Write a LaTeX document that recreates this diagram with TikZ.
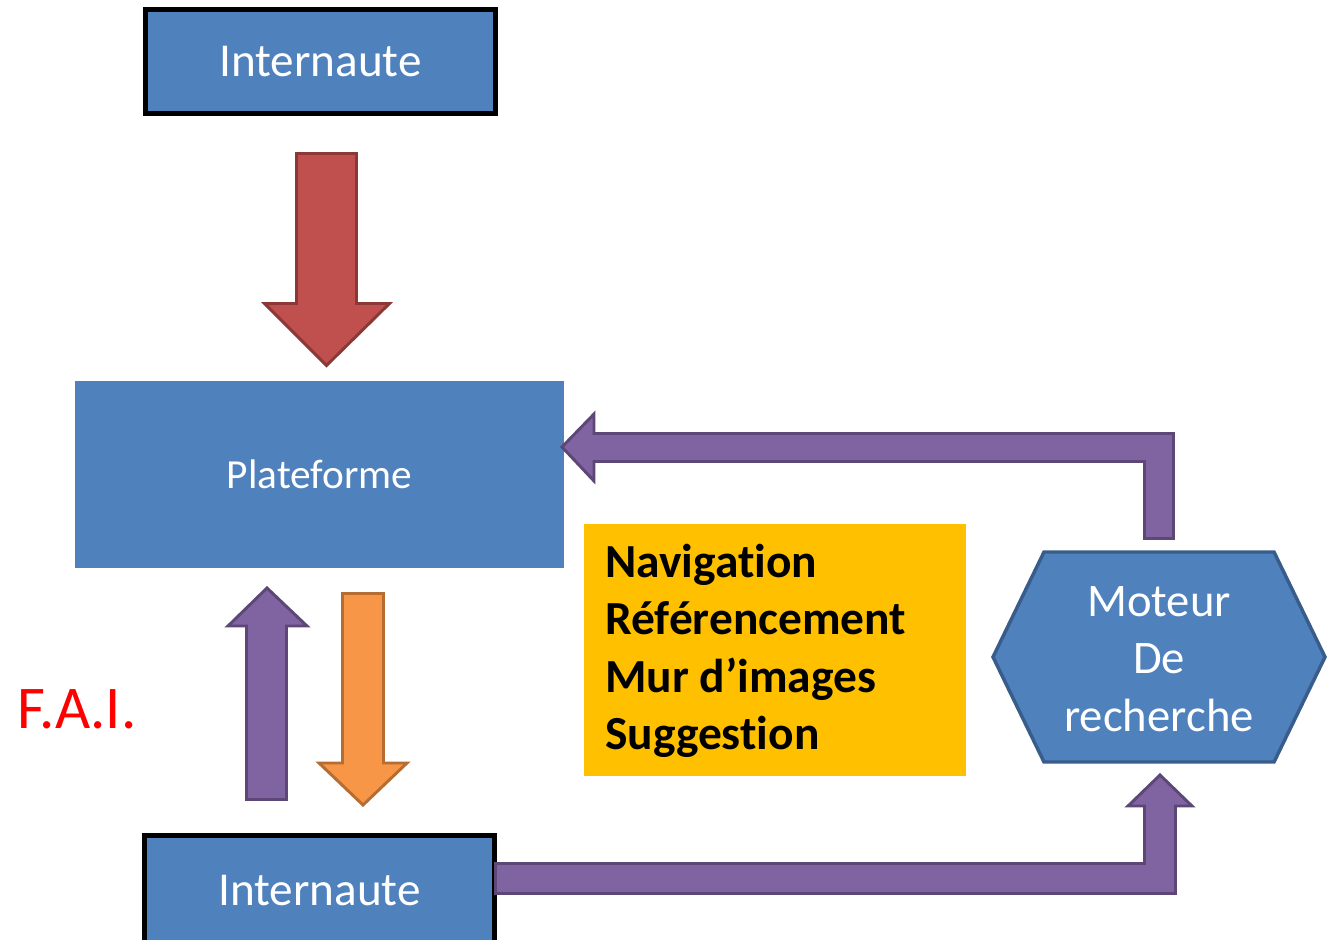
\documentclass[tikz,border=0pt]{standalone}
\usepackage{fontspec}
\setmainfont{Carlito}[Ligatures={NoCommon}, RawFeature={-liga;-clig;-dlig}]
\definecolor{boxblue}{HTML}{4F81BD}
\definecolor{hexborder}{HTML}{385D8A}
\definecolor{purplefill}{HTML}{8064A2}
\definecolor{purpleline}{HTML}{5C4776}
\definecolor{redfill}{HTML}{C0504D}
\definecolor{redline}{HTML}{8C3836}
\definecolor{orangefill}{HTML}{F79646}
\definecolor{orangeline}{HTML}{B66D31}
\definecolor{yellowfill}{HTML}{FFC000}
\tikzset{
  userbox/.style={draw=black, line width=3.75pt, fill=boxblue, text=white,
    minimum width=263pt, minimum height=78pt, inner sep=0pt,
    font=\fontsize{35.4}{42}\selectfont},
  blockred/.style={fill=redfill, draw=redline, line width=2.2pt, line join=miter},
  blockpurple/.style={fill=purplefill, draw=purpleline, line width=2.2pt, line join=miter},
  blockorange/.style={fill=orangefill, draw=orangeline, line width=2.2pt, line join=miter},
}
\begin{document}
\begin{tikzpicture}[x=0.75pt,y=-0.75pt]
\useasboundingbox (0,0) rectangle (1334,939);
% boxes
\node[userbox] (top) at (320.5,61.5) {Internaute};
\node[userbox, minimum height=90pt] (bottom) at (319.5,895) {\raisebox{6.5pt}{Internaute}};
\node[fill=boxblue, text=white, minimum width=366.75pt, minimum height=140.25pt,
  inner sep=0pt, font=\fontsize{31}{37}\selectfont] (plat) at (319.5,474.5) {Plateforme};
\node[fill=yellowfill, minimum width=286.5pt, minimum height=189pt, inner sep=0pt] (yellow) at (775,650) {};
\node[anchor=west, align=left, inner sep=0pt, font=\bfseries\fontsize{35.6}{43}\selectfont]
  (list) at (605,651) {Navigat\kern0pt ion\\Référencement\\Mur d’images\\Suggest\kern0pt ion};
% hexagon
\coordinate (hw) at (993,657);
\coordinate (hnw) at (1044,552);
\coordinate (hne) at (1274,552);
\coordinate (he) at (1325,657);
\coordinate (hse) at (1274,762);
\coordinate (hsw) at (1044,762);
\draw[fill=boxblue, draw=hexborder, line width=2.6pt, line join=miter]
  (hw) -- (hnw) -- (hne) -- (he) -- (hse) -- (hsw) -- cycle;
\node[text=white, align=center, inner sep=0pt, font=\fontsize{35}{43}\selectfont]
  (moteur) at (1159,659) {Moteur\\De\\recherche};
% F.A.I.
\node[text=red, anchor=base, inner sep=0pt, font=\fontsize{45.5}{54}\selectfont] (fai) at (77,728) {F.A.I.};
% red arrow down
\draw[blockred] (296.5,153.5) -- (356.5,153.5) -- (356.5,303.5) -- (389.5,303.5)
  -- (326.5,365.5) -- (264.5,303.5) -- (296.5,303.5) -- cycle;
% purple arrow up
\draw[blockpurple] (246.5,799.5) -- (286.5,799.5) -- (286.5,626) -- (307,626)
  -- (267,588) -- (228,626) -- (246.5,626) -- cycle;
% orange arrow down
\draw[blockorange] (342.5,593.5) -- (383.5,593.5) -- (383.5,763) -- (407,763)
  -- (363,805) -- (319,763) -- (342.5,763) -- cycle;
% top bent arrow (moteur -> plateforme)
\draw[blockpurple] (562,447) -- (594,414) -- (594,433.5) -- (1173.5,433.5)
  -- (1173.5,538.5) -- (1144.5,538.5) -- (1144.5,461.5) -- (594,461.5) -- (594,481) -- cycle;
% bottom bent arrow (internaute -> moteur)
\draw[blockpurple] (495.5,863.5) -- (1144.5,863.5) -- (1144.5,806) -- (1128,806)
  -- (1160,775) -- (1192,806) -- (1175.5,806) -- (1175.5,893.5) -- (495.5,893.5) -- cycle;
\end{tikzpicture}
\end{document}
